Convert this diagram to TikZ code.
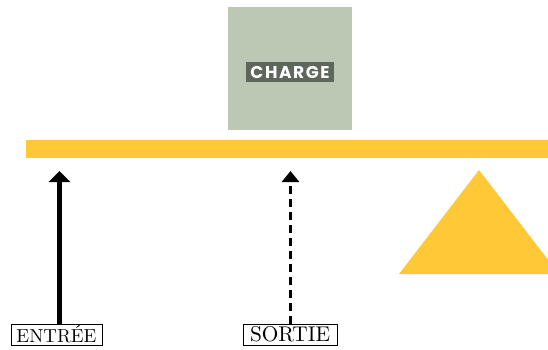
\documentclass[tikz,border=0pt]{standalone}
\usepackage{fontspec}
\usepackage{graphicx}
\newfontfamily\chargefont[LetterSpace=9]{Poppins}
\newfontfamily\labelfont{Latin Modern Roman}
\usetikzlibrary{arrows.meta}
\definecolor{sage}{HTML}{BCC8B4}
\definecolor{darkgreen}{HTML}{5F665C}
\definecolor{amber}{HTML}{FEC836}
\tikzset{
  labelbox/.style={draw=black, line width=0.6pt, fill=white, inner sep=0pt,
    minimum height=21pt},
  solidarrow/.style={line width=5pt, -{Triangle[width=21pt,length=11pt]}},
  dasharrow/.style={line width=3pt, dash pattern=on 8pt off 5pt, -{Triangle[width=17pt,length=11pt]}},
}
\begin{document}
\begin{tikzpicture}[x=1pt,y=-1pt]
\useasboundingbox (0,0) rectangle (548,349);
% load block
\node[fill=sage, minimum width=124pt, minimum height=123pt, inner sep=0pt] (load) at (290,68.5) {};
\node[fill=darkgreen, text=white, minimum width=88pt, minimum height=20pt, inner sep=0pt] (charge) at (290,72)
  {\resizebox{79pt}{!}{\chargefont\bfseries CHARGE}};
% lever bar
\node[fill=amber, minimum width=522pt, minimum height=18pt, inner sep=0pt] (bar) at (287,149) {};
% fulcrum
\fill[amber] (399,274) -- (479,170) -- (548,259.7) -- (548,274) -- cycle;
\coordinate (fulcrum) at (479,170);
% labels
\node[labelbox, minimum width=91pt] (entree) at (56.5,334.5) {\resizebox{80pt}{!}{\labelfont ENTRÉE}};
\node[labelbox, minimum width=94pt] (sortie) at (290,334.5) {\resizebox{80pt}{!}{\labelfont SORTIE}};
% arrows
\coordinate (tipA) at (59.5,171);
\coordinate (tipB) at (290.5,171);
\draw[solidarrow] (entree.north -| tipA) -- (tipA);
\draw[dasharrow] (sortie.north -| tipB) -- (tipB);
\end{tikzpicture}
\end{document}
